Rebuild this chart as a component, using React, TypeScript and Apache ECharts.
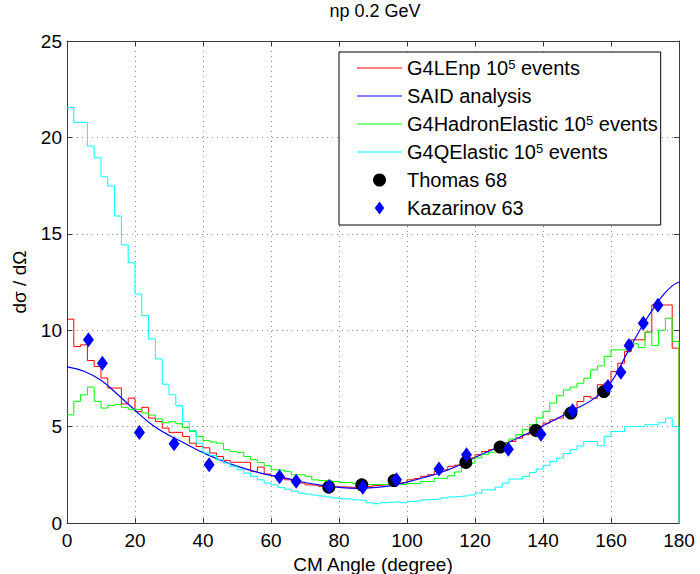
import React, { useEffect, useRef } from "react";
import * as echarts from "echarts";

const TITLE = "np 0.2 GeV";
const X_NAME = "CM Angle (degree)";
const Y_NAME = "dσ / dΩ";
const BIN_WIDTH = 2;
const X_MAX = 180;

// histogram contents, one value per 2-degree bin (0-2, 2-4, ..., 178-180)
const G4LENP = [
  10.57, 9.15, 9.24, 8.43, 8.12, 7.52, 7.0, 7.0, 6.18, 6.48,
  5.78, 6.0, 5.44, 5.26, 4.92, 4.7, 4.7, 4.49, 4.14, 3.97,
  3.9, 3.63, 3.45, 3.25, 3.15, 3.15, 3.15, 2.68, 2.9, 2.54,
  2.45, 2.34, 2.24, 2.15, 2.07, 1.98, 1.95, 1.9, 1.9, 1.87,
  1.87, 1.85, 1.87, 1.85, 1.9, 1.95, 1.98, 2.0, 2.07, 2.1,
  2.24, 2.3, 2.42, 2.5, 2.68, 2.75, 2.94, 3.0, 3.11, 3.37,
  3.54, 3.71, 3.8, 3.88, 4.15, 4.23, 4.4, 4.58, 4.84, 5.0,
  5.18, 5.35, 5.44, 5.73, 5.96, 6.3, 6.56, 6.47, 7.17, 7.25,
  7.86, 8.29, 8.9, 9.5, 9.5, 9.9, 11.31, 11.31, 11.31, 9.07,
];
const G4HADRON = [
  5.61, 6.31, 6.65, 7.05, 6.31, 5.96, 6.1, 6.15, 6.0, 5.9,
  5.87, 5.7, 5.6, 5.4, 5.2, 5.25, 5.15, 4.95, 4.75, 4.49,
  4.28, 4.2, 4.14, 3.8, 3.71, 3.66, 3.45, 3.28, 3.14, 2.97,
  2.76, 2.74, 2.66, 2.5, 2.5, 2.42, 2.24, 2.2, 2.2, 2.15,
  2.1, 2.1, 2.05, 2.05, 2.0, 2.0, 2.0, 2.0, 2.0, 2.0,
  2.05, 2.05, 2.15, 2.15, 2.32, 2.32, 2.45, 2.65, 2.9, 3.1,
  3.38, 3.56, 3.67, 3.9, 4.15, 4.36, 4.58, 4.84, 5.1, 5.45,
  5.79, 6.22, 6.6, 6.9, 7.05, 7.25, 7.51, 7.94, 8.15, 8.64,
  8.98, 8.98, 8.98, 9.3, 9.1, 9.9, 9.2, 10.0, 10.62, 9.42,
];
const G4QELASTIC = [
  21.55, 20.78, 20.78, 19.55, 18.94, 17.96, 17.48, 15.92, 14.42, 13.5,
  11.87, 10.76, 9.55, 8.51, 7.2, 6.65, 6.08, 5.26, 4.8, 4.14,
  3.63, 3.5, 3.28, 3.11, 2.94, 2.76, 2.59, 2.42, 2.24, 2.07,
  1.98, 1.85, 1.75, 1.65, 1.55, 1.5, 1.45, 1.4, 1.35, 1.3,
  1.25, 1.25, 1.2, 1.17, 1.05, 1.0, 1.05, 1.08, 1.1, 1.05,
  1.12, 1.15, 1.2, 1.22, 1.25, 1.3, 1.35, 1.38, 1.41, 1.45,
  1.55, 1.72, 1.72, 1.86, 2.07, 2.28, 2.28, 2.42, 2.62, 2.8,
  2.97, 3.18, 3.37, 3.6, 3.8, 4.0, 4.23, 4.23, 4.0, 4.49,
  4.75, 4.75, 5.0, 5.0, 5.0, 5.1, 5.1, 5.2, 5.44, 5.0,
];

// SAID partial-wave analysis curve
const SAID_ANGLE = [0, 5, 10, 15, 20, 25, 30, 35, 40, 45, 50, 55, 60, 65, 70, 75, 80, 85, 90,
  95, 100, 105, 110, 115, 120, 125, 130, 135, 140, 145, 150, 155, 160, 165, 170, 175, 178, 180];
const SAID_VALUE = [8.1, 7.87, 7.4, 6.65, 5.85, 5.1, 4.55, 4.1, 3.65, 3.27, 2.95, 2.68, 2.47, 2.3,
  2.1, 1.95, 1.85, 1.8, 1.83, 1.93, 2.12, 2.36, 2.62, 2.97, 3.4, 3.8, 4.2, 4.6, 5.04, 5.5,
  5.95, 6.45, 7.3, 8.9, 10.45, 11.75, 12.3, 12.5];

// measurements
const THOMAS_ANGLE = [77, 86.7, 96.2, 117.3, 127.4, 137.9, 148.2, 157.9];
const THOMAS_VALUE = [1.86, 1.98, 2.2, 3.14, 3.94, 4.8, 5.7, 6.82];
const KAZ_ANGLE = [6.3, 10.4, 21.3, 31.5, 41.8, 62.5, 67.4, 77.1, 87, 96.9, 109.4, 117.5,
  129.8, 139.4, 148.7, 159.1, 162.9, 165.3, 169.5, 173.8];
const KAZ_VALUE = [9.5, 8.29, 4.7, 4.11, 3.02, 2.4, 2.16, 1.9, 1.86, 2.24, 2.8, 3.54,
  3.83, 4.6, 5.82, 7.08, 7.82, 9.2, 10.36, 11.3];

const NAMES = [
  "G4LEnp 10^5 events",
  "SAID analysis",
  "G4HadronElastic 10^5 events",
  "G4QElastic 10^5 events",
  "Thomas 68",
  "Kazarinov 63",
];

const FONT = "'Liberation Sans', Arial, Helvetica, sans-serif";
const LINE_ICON = "path://M0 0 L45 0 L45 1.2 L0 1.2 Z";
const DIAMOND_ICON = "path://M5.5 0 L11 7.5 L5.5 15 L0 7.5 Z";

function histData(values: number[]) {
  const pts: [number, number][] = values.map((v, i) => [i * BIN_WIDTH, v]);
  pts.push([X_MAX, values[values.length - 1]]);
  pts.push([X_MAX, 0]);
  return pts;
}

function pairs(xs: number[], ys: number[]) {
  return xs.map((x, i) => [x, ys[i]]);
}

export default function App() {
  const ref = useRef<HTMLDivElement>(null);
  useEffect(() => {
    if (!ref.current) return;
    const chart = echarts.init(ref.current, undefined, { renderer: "svg" });
    const axisColor = "#3a3a3a";
    const gridLine = { show: true, lineStyle: { color: "#8c8c8c", type: [1, 4] as any, width: 1 } };
    const baseX = {
      type: "value" as const,
      min: 0,
      max: X_MAX,
      interval: 20,
      axisLine: { show: true, onZero: false, lineStyle: { color: axisColor, width: 1 } },
      axisTick: { show: true, inside: true, length: 5, lineStyle: { color: axisColor } },
    };
    const baseY = {
      type: "value" as const,
      min: 0,
      max: 25,
      interval: 5,
      axisLine: { show: true, onZero: false, lineStyle: { color: axisColor, width: 1 } },
      axisTick: { show: true, inside: true, length: 5, lineStyle: { color: axisColor } },
    };
    chart.setOption({
      animation: false,
      backgroundColor: "#ffffff",
      title: {
        text: TITLE,
        left: 373,
        top: 0,
        padding: 2,
        textAlign: "center",
        textStyle: { fontFamily: FONT, fontSize: 18, fontWeight: "normal", color: "#000" },
      },
      grid: {
        left: 67,
        right: 21,
        top: 41,
        bottom: 51,
        containLabel: false,
        outerBoundsMode: "none",
      },
      xAxis: [
        {
          ...baseX,
          position: "bottom",
          name: X_NAME,
          nameLocation: "middle",
          nameGap: 29,
          nameTextStyle: { fontFamily: FONT, fontSize: 19, color: "#000" },
          axisLabel: { fontFamily: FONT, fontSize: 19, color: "#000", margin: 8 },
          splitLine: gridLine,
        },
        {
          ...baseX,
          position: "top",
          axisLabel: { show: false },
          splitLine: { show: false },
        },
      ],
      yAxis: [
        {
          ...baseY,
          position: "left",
          name: Y_NAME,
          nameLocation: "middle",
          nameGap: 38,
          nameRotate: 90,
          nameTextStyle: { fontFamily: FONT, fontSize: 19, color: "#000" },
          axisLabel: { fontFamily: FONT, fontSize: 19, color: "#000", margin: 5 },
          splitLine: gridLine,
        },
        {
          ...baseY,
          position: "right",
          axisLabel: { show: false },
          splitLine: { show: false },
        },
      ],
      legend: {
        orient: "vertical",
        left: 339,
        top: 52,
        padding: [6, 3, 7, 18],
        itemGap: 8,
        itemWidth: 45,
        itemHeight: 13,
        backgroundColor: "#ffffff",
        borderColor: "#000000",
        borderWidth: 1,
        data: [
          { name: NAMES[0], icon: LINE_ICON },
          { name: NAMES[1], icon: LINE_ICON },
          { name: NAMES[2], icon: LINE_ICON },
          { name: NAMES[3], icon: LINE_ICON },
          { name: NAMES[4], icon: "circle" },
          { name: NAMES[5], icon: DIAMOND_ICON },
        ],
        formatter: (name: string) => {
          const m = name.split("10^5");
          if (m.length === 2) return `{t|${m[0]}10}{s|5}{t|${m[1]}}`;
          return `{t|${name}}`;
        },
        textStyle: {
          fontFamily: FONT,
          fontSize: 20,
          color: "#000",
          rich: {
            t: { fontFamily: FONT, fontSize: 20, color: "#000" },
            s: { fontFamily: FONT, fontSize: 13, verticalAlign: "top", color: "#000" },
          },
        },
      },
      series: [
        {
          name: NAMES[0],
          type: "line",
          step: "end",
          symbol: "none",
          data: histData(G4LENP),
          lineStyle: { color: "#ff0000", width: 1 },
          itemStyle: { color: "#ff0000" },
        },
        {
          name: NAMES[1],
          type: "line",
          smooth: 0.4,
          symbol: "none",
          data: pairs(SAID_ANGLE, SAID_VALUE),
          lineStyle: { color: "#0000ff", width: 1.2 },
          itemStyle: { color: "#0000ff" },
        },
        {
          name: NAMES[2],
          type: "line",
          step: "end",
          symbol: "none",
          data: histData(G4HADRON),
          lineStyle: { color: "#00ff00", width: 1 },
          itemStyle: { color: "#00ff00" },
        },
        {
          name: NAMES[3],
          type: "line",
          step: "end",
          symbol: "none",
          data: histData(G4QELASTIC),
          lineStyle: { color: "#00ffff", width: 1 },
          itemStyle: { color: "#00ffff" },
        },
        {
          name: NAMES[4],
          type: "scatter",
          symbol: "circle",
          symbolSize: 13,
          data: pairs(THOMAS_ANGLE, THOMAS_VALUE),
          itemStyle: { color: "#000000", opacity: 1 },
          z: 5,
        },
        {
          name: NAMES[5],
          type: "scatter",
          symbol: "diamond",
          symbolSize: [11, 15],
          data: pairs(KAZ_ANGLE, KAZ_VALUE),
          itemStyle: { color: "#0000ff", opacity: 1 },
          z: 6,
        },
      ],
    });
    return () => chart.dispose();
  }, []);
  return (
    <div
      ref={ref}
      style={{ position: "absolute", left: 0, top: 0, width: 700, height: 574 }}
    />
  );
}
